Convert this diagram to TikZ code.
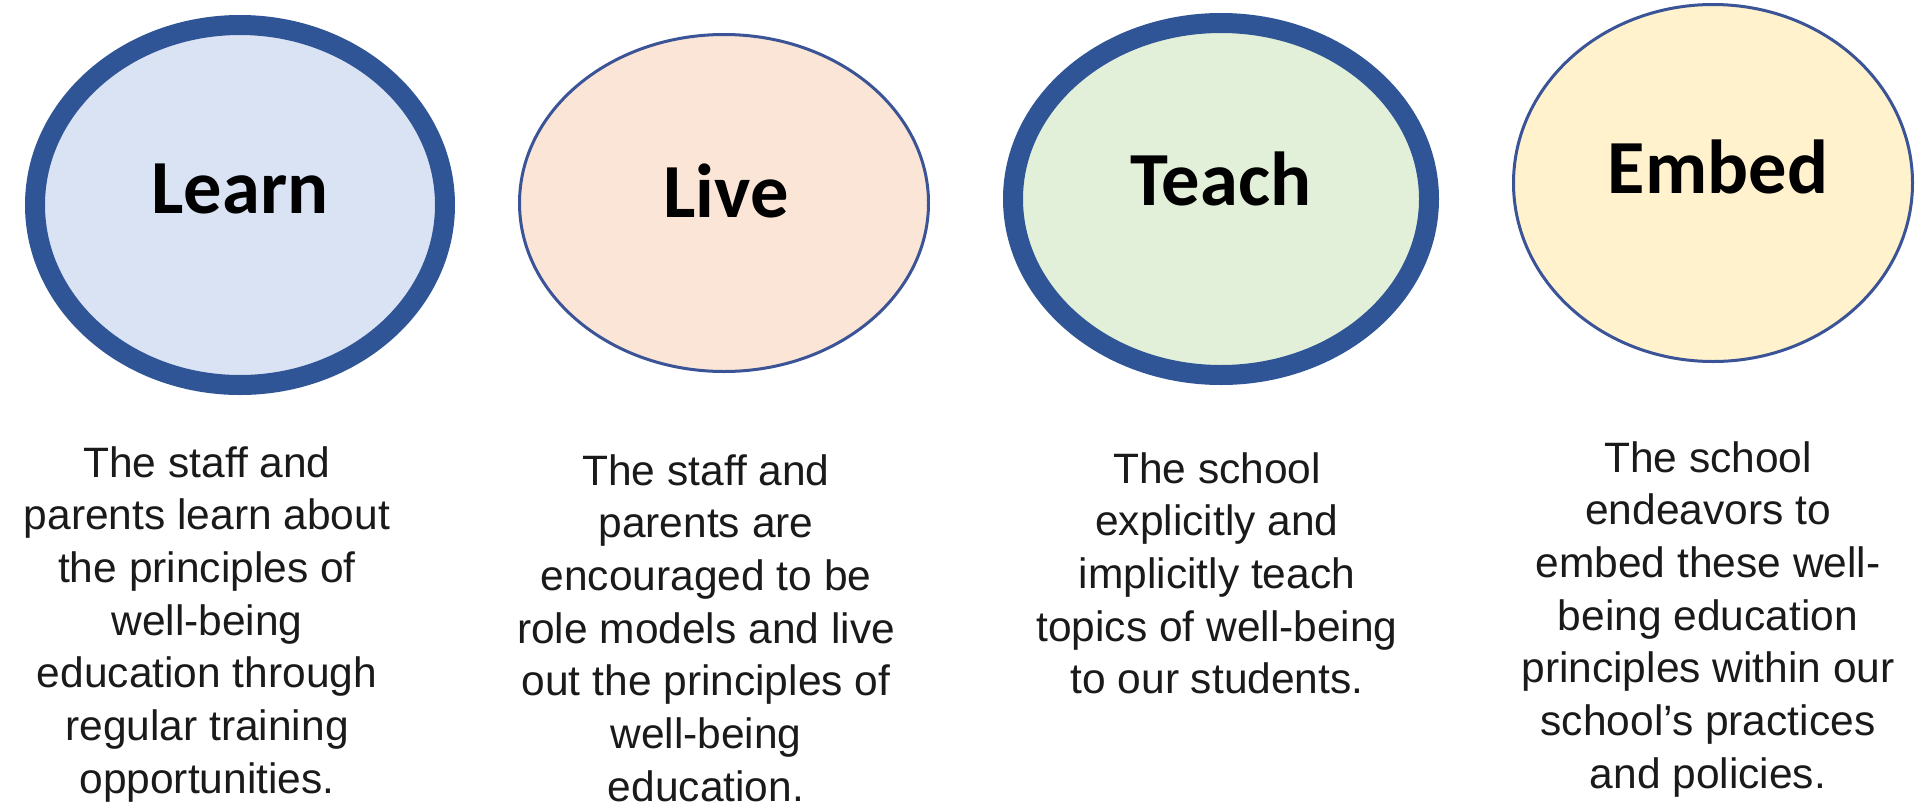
\documentclass[tikz,border=0pt]{standalone}
\usepackage{fontspec}
\setmainfont{Liberation Sans}
\newfontfamily\titlefont{Carlito}
\usetikzlibrary{shapes.geometric}
\definecolor{ringblue}{HTML}{2F5597}
\definecolor{thinblue}{HTML}{3B5397}
\definecolor{learnfill}{HTML}{DAE3F3}
\definecolor{livefill}{HTML}{FBE5D6}
\definecolor{teachfill}{HTML}{E2F0D9}
\definecolor{embedfill}{HTML}{FFF2CC}
\definecolor{bodytext}{HTML}{1A1A1A}
\begin{document}
\begin{tikzpicture}[x=1pt,y=-1pt,
  disc/.style={ellipse, inner sep=0pt, outer sep=0pt},
  thickring/.style={disc, draw=ringblue, line width=20pt},
  thinring/.style={disc, draw=thinblue, line width=3pt},
  title/.style={anchor=base, font=\titlefont\bfseries\fontsize{76.5}{90}\selectfont, text=black, inner sep=0pt},
  desc/.style={anchor=base, text=bodytext, inner sep=0pt},
]
\fill[white] (0,0) rectangle (1917,804);
\useasboundingbox (0,0) rectangle (1917,804);

\node[thickring, fill=learnfill, minimum width=410pt, minimum height=360pt] (learn) at (240,205) {};
\node[thinring, fill=livefill, minimum width=409pt, minimum height=337pt] (live) at (724,203) {};
\node[thickring, fill=teachfill, minimum width=416pt, minimum height=352pt] (teach) at (1221,199) {};
\node[thinring, fill=embedfill, minimum width=399pt, minimum height=357pt] (embed) at (1713,183) {};

\node[title] (learnT) at (240,213) {Learn};
\node[title] (liveT) at (726,217) {Live};
\node[title] (teachT) at (1221,205) {Teach};
\node[title] (embedT) at (1718,193) {Embed};

\node[desc] (learnD) at (207,477) {\fontsize{42.5}{52.7}\selectfont\begin{tabular}[t]{@{}c@{}}The staff and\\ parents learn about\\ the principles of\\ well-being\\ education through\\ regular training\\ opportunities.\end{tabular}};
\node[desc] (liveD) at (706,485) {\fontsize{42.5}{52.7}\selectfont\begin{tabular}[t]{@{}c@{}}The staff and\\ parents are\\ encouraged to be\\ role models and live\\ out the principles of\\ well-being\\ education.\end{tabular}};
\node[desc] (teachD) at (1217,483) {\fontsize{42.5}{52.7}\selectfont\begin{tabular}[t]{@{}c@{}}The school\\ explicitly and\\ implicitly teach\\ topics of well-being\\ to our students.\end{tabular}};
\node[desc] (embedD) at (1708,472) {\fontsize{42.5}{52.7}\selectfont\begin{tabular}[t]{@{}c@{}}The school\\ endeavors to\\ embed these well-\\ being education\\ principles within our\\ school’s practices\\ and policies.\end{tabular}};
\end{tikzpicture}
\end{document}
